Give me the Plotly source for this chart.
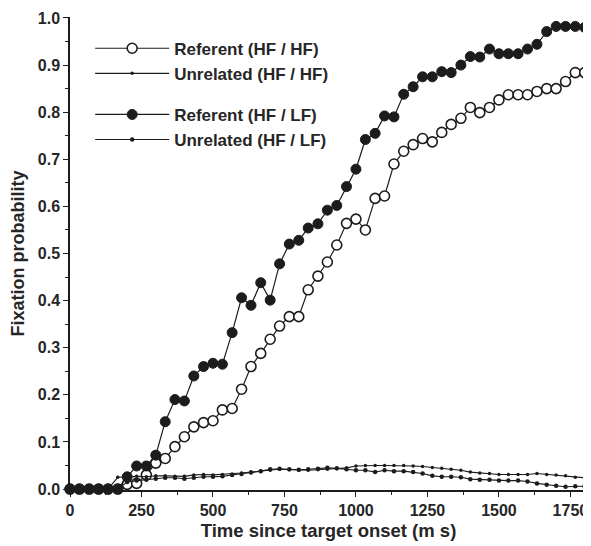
import plotly.graph_objects as go

# Time since target onset (ms)
time_ms = [0, 33, 67, 100, 133, 167, 200, 233, 267, 300, 333, 367, 400, 433, 467,
           500, 533, 567, 600, 633, 667, 700, 733, 767, 800, 833, 867, 900, 933, 967,
           1000, 1033, 1067, 1100, 1133, 1167, 1200, 1233, 1267, 1300, 1333, 1367,
           1400, 1433, 1467, 1500, 1533, 1567, 1600, 1633, 1667, 1700, 1733, 1767, 1800]

referent_hf_hf = [0, 0, 0, 0, 0, 0, 0.010, 0.012, 0.030, 0.055, 0.065, 0.090, 0.111,
                  0.132, 0.141, 0.145, 0.168, 0.171, 0.212, 0.260, 0.288, 0.318, 0.346,
                  0.366, 0.366, 0.423, 0.452, 0.482, 0.518, 0.564, 0.573, 0.550, 0.617,
                  0.622, 0.690, 0.717, 0.731, 0.744, 0.737, 0.757, 0.774, 0.787, 0.810,
                  0.799, 0.810, 0.826, 0.837, 0.837, 0.837, 0.844, 0.850, 0.850, 0.865,
                  0.884, 0.884]

unrelated_hf_hf = [0, 0, 0, 0, 0, 0.025, 0.026, 0.027, 0.026, 0.028, 0.028, 0.027,
                   0.027, 0.030, 0.031, 0.030, 0.031, 0.032, 0.034, 0.036, 0.038, 0.040,
                   0.042, 0.041, 0.040, 0.040, 0.041, 0.042, 0.043, 0.045, 0.049, 0.050,
                   0.050, 0.050, 0.050, 0.050, 0.049, 0.048, 0.046, 0.044, 0.042, 0.040,
                   0.036, 0.034, 0.033, 0.031, 0.031, 0.031, 0.031, 0.033, 0.031, 0.030,
                   0.028, 0.025, 0.024]

referent_hf_lf = [0, 0, 0, 0, 0, 0, 0.026, 0.049, 0.049, 0.072, 0.143, 0.190, 0.187,
                  0.240, 0.260, 0.267, 0.265, 0.332, 0.406, 0.390, 0.438, 0.401, 0.478,
                  0.520, 0.528, 0.554, 0.563, 0.592, 0.602, 0.642, 0.679, 0.742, 0.755,
                  0.792, 0.790, 0.838, 0.854, 0.875, 0.875, 0.886, 0.884, 0.900, 0.918,
                  0.917, 0.934, 0.924, 0.924, 0.924, 0.934, 0.944, 0.971, 0.982, 0.982,
                  0.982, 0.980]

unrelated_hf_lf = [0, 0, 0, 0, 0, 0, 0.015, 0.018, 0.020, 0.022, 0.024, 0.024, 0.022,
                   0.024, 0.026, 0.026, 0.027, 0.030, 0.032, 0.035, 0.038, 0.042, 0.043,
                   0.042, 0.041, 0.042, 0.043, 0.045, 0.044, 0.042, 0.040, 0.040, 0.036,
                   0.040, 0.038, 0.038, 0.036, 0.033, 0.028, 0.026, 0.026, 0.025, 0.021,
                   0.020, 0.020, 0.018, 0.018, 0.018, 0.016, 0.012, 0.009, 0.007, 0.005,
                   0.006, 0.006]

x_ticks = [0, 250, 500, 750, 1000, 1250, 1500, 1750]
y_ticks = [0.0, 0.1, 0.2, 0.3, 0.4, 0.5, 0.6, 0.7, 0.8, 0.9, 1.0]
x_range = [0, 1808]
y_range = [-0.002, 1.002]

INK = "#1c1c1c"
TXT = "#262626"
FONT = "Liberation Sans, Arial, Helvetica, sans-serif"

fig = go.Figure()

fig.add_trace(go.Scatter(
    x=time_ms, y=referent_hf_hf, mode="lines+markers", name="Referent (HF / HF)",
    legendgroup="hf", line=dict(color=INK, width=1.2),
    marker=dict(symbol="circle", size=10, color="white", line=dict(color=INK, width=1.6)),
    cliponaxis=False))
fig.add_trace(go.Scatter(
    x=time_ms, y=unrelated_hf_hf, mode="lines+markers", name="Unrelated (HF / HF)",
    legendgroup="hf", line=dict(color=INK, width=1.1),
    marker=dict(symbol="circle", size=3.5, color=INK),
    cliponaxis=False))
fig.add_trace(go.Scatter(
    x=time_ms, y=referent_hf_lf, mode="lines+markers", name="Referent (HF / LF)",
    legendgroup="lf", line=dict(color=INK, width=1.2),
    marker=dict(symbol="circle", size=10, color=INK, line=dict(color=INK, width=1)),
    cliponaxis=False))
fig.add_trace(go.Scatter(
    x=time_ms, y=unrelated_hf_lf, mode="lines+markers", name="Unrelated (HF / LF)",
    legendgroup="lf", line=dict(color=INK, width=1.1),
    marker=dict(symbol="circle", size=4.5, color=INK),
    cliponaxis=False))

axis_common = dict(showline=True, linecolor=INK, linewidth=1.5, showgrid=False,
                   zeroline=False, ticks="outside", tickcolor=INK, tickwidth=1.2,
                   ticklen=5, automargin=False)

# the page body adds an 8 px offset, so the figure is sized to fit the window
fig.update_layout(
    width=583, height=538,
    margin=dict(l=62, r=4, t=9, b=56),
    paper_bgcolor="white", plot_bgcolor="white",
    font=dict(family=FONT, color=TXT, size=16),
    showlegend=True,
    legend=dict(x=0.039, y=0.971, xanchor="left", yanchor="top",
                bgcolor="rgba(0,0,0,0)", traceorder="grouped", tracegroupgap=16,
                itemwidth=74,
                font=dict(family=FONT, size=17, color=TXT, weight="bold")),
    xaxis=dict(range=x_range, tickvals=x_ticks, ticktext=[str(v) for v in x_ticks],
               tickfont=dict(family=FONT, size=16, color=TXT, weight="bold"),
               title=dict(text="<b>Time since target onset (m s)</b>", standoff=6,
                          font=dict(family=FONT, size=18.5, color=TXT)),
               minor=dict(dtick=125, tick0=0, ticks="outside", ticklen=3,
                          tickcolor=INK),
               **axis_common),
    yaxis=dict(range=y_range, tickvals=y_ticks, ticktext=[f"{v:.1f}" for v in y_ticks],
               tickfont=dict(family=FONT, size=16, color=TXT, weight="bold"),
               title=dict(text="<b>Fixation probability</b>", standoff=10,
                          font=dict(family=FONT, size=18, color=TXT)),
               minor=dict(dtick=0.05, tick0=0, ticks="outside", ticklen=3,
                          tickcolor=INK),
               **axis_common),
    xaxis2=dict(overlaying="x", side="top", range=x_range, showline=True,
                linecolor=INK, linewidth=1.5, showgrid=False, zeroline=False,
                ticks="inside", tickcolor=INK, ticklen=3, dtick=125, tick0=0,
                showticklabels=False, anchor="y", automargin=False),
    yaxis2=dict(overlaying="y", side="right", range=y_range, showline=True,
                linecolor=INK, linewidth=1.5, showgrid=False, zeroline=False,
                ticks="inside", tickcolor=INK, ticklen=4, dtick=0.1, tick0=0,
                showticklabels=False, anchor="x", automargin=False,
                minor=dict(dtick=0.05, tick0=0, ticks="inside", ticklen=3,
                           tickcolor=INK)),
)

fig.write_html("out.html")
